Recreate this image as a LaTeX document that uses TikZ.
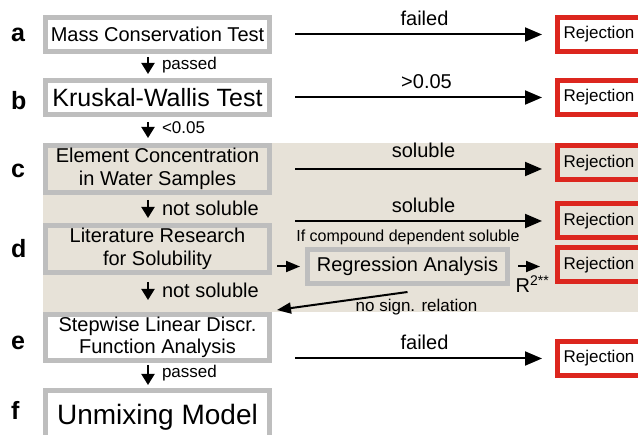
\documentclass[tikz,border=0pt]{standalone}
\usepackage{fontspec}
\setmainfont{Liberation Sans}
\usetikzlibrary{arrows.meta,calc}
\definecolor{bx}{RGB}{190,190,190}
\definecolor{bg}{RGB}{231,226,216}
\definecolor{rj}{RGB}{220,38,30}
\begin{document}
\begin{tikzpicture}[x=1pt,y=1pt,
  stepbox/.style={draw=bx, line width=5pt, fill=white, minimum width=224pt, inner sep=0pt, align=center, font=\fontsize{20}{23}\selectfont},
  rej/.style={draw=rj, line width=5pt, fill=white, minimum width=83pt, minimum height=34pt, inner sep=0pt, font=\fontsize{17}{20}\selectfont},
  harr/.style={line width=2pt, -{Triangle[length=17pt,width=14pt]}},
  varr/.style={line width=2pt, -{Triangle[length=11pt,width=13pt]}},
  sarr/.style={line width=2pt, -{Triangle[length=14pt,width=11pt]}},
  letter/.style={font=\fontsize{25}{25}\selectfont\bfseries, anchor=base west, inner sep=0pt},
  lab/.style={font=\fontsize{20}{22}\selectfont, inner sep=0pt},
  labs/.style={font=\fontsize{17}{19}\selectfont, inner sep=0pt},
]
\useasboundingbox (0,0) rectangle (638,-435);
\clip (0,0) rectangle (638,-435);
\fill[bg] (43,-143) rectangle (638,-312);

% left column
\node[stepbox, minimum height=34pt] (a) at (157.5,-34.5) {Mass Conservation Test};
\node[stepbox, minimum height=34pt, font=\fontsize{25}{28}\selectfont] (b) at (157.5,-97.5) {Kruskal-Wallis Test};
\node[stepbox, fill=bg, minimum height=47pt] (c) at (157.5,-169) {Element Concentration\\in Water Samples};
\node[stepbox, fill=bg, minimum height=47pt] (d) at (157.5,-249) {Literature Research\\for Solubility};
\node[stepbox, minimum height=46pt, font=\fontsize{20}{22}\selectfont] (e) at (157.5,-337.5) {Stepwise Linear Discr.\\Function Analysis};
\node[stepbox, minimum height=53pt, font=\fontsize{28}{30}\selectfont] (f) at (157.5,-417) {Unmixing Model};

\node[stepbox, fill=bg, minimum width=200pt, minimum height=34pt] (reg) at (407.5,-266.5) {Regression Analysis};
\node[font=\fontsize{16}{18}\selectfont, inner sep=0pt] (ifc) at (408,-237) {If compound dependent soluble};

% rejection boxes
\node[rej] (ra) at (599,-34.5) {Rejection};
\node[rej] (rb) at (599,-97.5) {Rejection};
\node[rej, fill=bg] (rc) at (599,-163) {Rejection};
\node[rej, fill=bg] (rd) at (599,-221) {Rejection};
\node[rej, fill=bg] (rr) at (599,-265) {Rejection};
\node[rej] (re) at (599,-358.5) {Rejection};

% letters
\node[letter] (la) at (11,-42) {a};
\node[letter] (lb) at (11,-110) {b};
\node[letter] (lc) at (11,-178) {c};
\node[letter] (ld) at (11,-258) {d};
\node[letter] (le) at (11,-350) {e};
\node[letter] (lf) at (11,-420) {f};

% horizontal arrows
\draw[harr, shorten <=23pt, shorten >=13pt] (a) -- (ra)
  node[midway, lab, anchor=base, yshift=9pt, xshift=11pt] {failed};
\draw[harr, shorten <=23pt, shorten >=13pt] (b) -- (rb)
  node[midway, lab, anchor=base, yshift=9pt, xshift=13pt] {>0.05};
\draw[harr, shorten <=23pt, shorten >=13pt] (c.east) -- (c.east -| rc.west)
  node[midway, lab, anchor=base, yshift=11pt, xshift=10pt] {soluble};
\draw[harr, shorten <=23pt, shorten >=13pt] (d.east |- rd.west) -- (rd.west)
  node[midway, lab, anchor=base, yshift=8pt, xshift=10pt] {soluble};
\draw[harr, shorten <=23pt, shorten >=13pt] (e.east |- re.west) -- (re.west)
  node[midway, lab, anchor=base, yshift=9pt, xshift=11pt] {failed};

% vertical arrows
\draw[varr, shorten <=3pt, shorten >=4pt] ([xshift=-9.5pt]a.south) -- ([xshift=-9.5pt]b.north)
  node[midway, labs, right=13pt, yshift=1pt] {passed};
\draw[varr, shorten <=5pt, shorten >=5pt] ([xshift=-9.5pt]b.south) -- ([xshift=-9.5pt]c.north)
  node[midway, labs, right=13pt, yshift=2pt] {<0.05};
\draw[varr, shorten <=5pt, shorten >=5pt] ([xshift=-9.5pt]c.south) -- ([xshift=-9.5pt]d.north)
  node[midway, lab, right=13pt, yshift=1pt] {not soluble};
\draw[varr, shorten <=7pt, shorten >=12pt] ([xshift=-9.5pt]d.south) -- ([xshift=-9.5pt]e.north)
  node[midway, lab, right=13pt, yshift=3pt] {not soluble};
\draw[varr, shorten <=2pt, shorten >=3pt] ([xshift=-9.5pt]e.south) -- ([xshift=-9.5pt]f.north)
  node[midway, labs, right=13pt, yshift=2pt] {passed};

% regression arrows
\draw[sarr, shorten <=5pt, shorten >=5pt] (d.east |- reg.west) -- (reg.west);
\draw[sarr, shorten <=8pt, shorten >=15pt] (reg.east) -- (reg.east -| rr.west)
  node[midway, lab, anchor=base, yshift=-26.5pt] {R\textsuperscript{2**}};
\draw[sarr] ([yshift=-6pt]reg.south) -- ([shift={(5pt,2pt)}]e.north east)
  node[pos=0, labs, xshift=9pt, yshift=-15pt] {no sign. relation};
\end{tikzpicture}
\end{document}
